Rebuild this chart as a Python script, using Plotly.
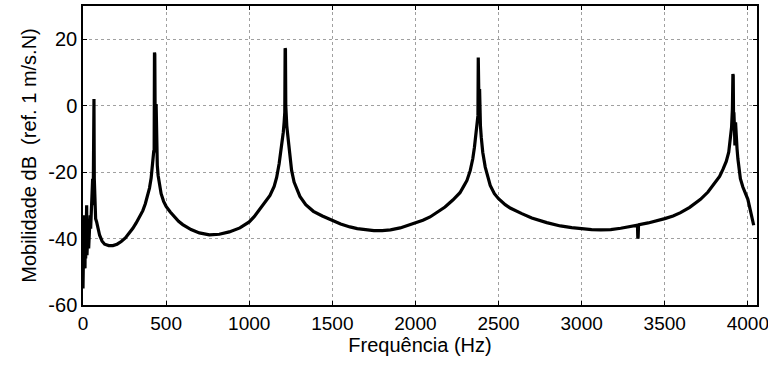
import plotly.graph_objects as go

# Frequency (Hz) and mobility (dB ref. 1 m/s.N)
freq_hz = [
    0, 2, 4, 6, 8, 10, 12, 14, 16, 18, 20, 22, 24, 26, 28, 31, 34, 37, 40, 43,
    46, 49, 52, 55, 58, 61, 63, 65, 66, 67, 68, 70, 72, 76, 82, 90, 100, 115,
    130, 155, 180, 205, 230, 255, 280, 300, 320, 340, 360, 375, 390, 400, 410,
    417, 422, 426, 428, 430, 432, 434, 437, 440, 443, 447, 452, 460, 470, 485,
    500, 525, 550, 575, 600, 650, 700, 760, 820, 880, 944, 1000, 1030, 1064,
    1095, 1125, 1150, 1165, 1180, 1195, 1205, 1210, 1214, 1216, 1218, 1220,
    1222, 1226, 1230, 1235, 1245, 1255, 1270, 1290, 1305, 1340, 1386, 1440,
    1500, 1550, 1606, 1650, 1700, 1750, 1800, 1850, 1908, 1960, 2000, 2045,
    2088, 2130, 2178, 2225, 2268, 2290, 2310, 2330, 2345, 2355, 2365, 2372,
    2376, 2378, 2380, 2383, 2386, 2388, 2391, 2396, 2405, 2420, 2435, 2450,
    2475, 2500, 2540, 2570, 2640, 2700, 2790, 2872, 2940, 3000, 3060, 3115,
    3175, 3235, 3290, 3330, 3336, 3338, 3340, 3342, 3346, 3400, 3450, 3500,
    3550, 3595, 3650, 3715, 3760, 3805, 3830, 3850, 3870, 3885, 3895, 3902,
    3907, 3910, 3912, 3914, 3916, 3919, 3922, 3926, 3930, 3935, 3940, 3948,
    3955, 3970, 3985, 4000, 4015, 4035, 4055,
]
mobility_db = [
    -55, -36, -50, -33, -47, -38, -49, -36, -46, -40, -44, -30, -45, -37, -42,
    -35, -43, -36, -40, -33, -37, -32, -35, -27, -22, -30, -10, -4, 2, -12,
    -22, -28, -33, -34, -35, -37, -39, -40.8, -41.7, -42.1, -42.1, -41.7,
    -40.9, -39.8, -38.3, -36.9, -35.3, -33.6, -31.6, -29.5, -27, -24.8, -21.8,
    -18.5, -15.5, -13.5, -14, 16, 15.5, -3, -10, 0.5, -14, -18, -21, -24,
    -26.5, -28.8, -30.3, -32, -33.5, -34.8, -35.8, -37.3, -38.3, -38.9, -38.7,
    -38, -36.8, -35, -33.4, -31.2, -29.2, -27, -24.3, -21.6, -17.5, -12.3,
    -8, -5, -2, 17.3, 17, 0, -4, -6, -8, -10.5, -15.5, -19.5, -23, -25.8,
    -27.3, -29.8, -31.8, -33.2, -34.6, -35.6, -36.5, -37, -37.3, -37.6, -37.6,
    -37.4, -36.8, -36, -35.4, -34.5, -33.5, -32.1, -30.5, -28.4, -26.2, -24.3,
    -22.5, -19.5, -16, -12.5, -8.5, -5, -3, 14.5, 1, -2, 5, -3, -6, -9.5, -14,
    -18.5, -21.5, -24, -26.5, -28, -29.8, -30.8, -32.5, -33.8, -35.2, -36.2,
    -36.7, -37.1, -37.3, -37.4, -37.3, -36.9, -36.5, -36.2, -36, -40, -39.5,
    -36.3, -35.8, -35.3, -34.7, -34, -33.2, -32.2, -30.6, -28.2, -26, -23.2,
    -21.3, -19.2, -16.8, -14, -10.5, -6.5, -1, 9.5, 9, -4, -2, -6, -12, -5,
    -10, -13, -16, -18.5, -22, -24.5, -26.3, -28.2, -31.5, -36,
]

x_ticks = [0, 500, 1000, 1500, 2000, 2500, 3000, 3500, 4000]
y_ticks = [-60, -40, -20, 0, 20]

FONT = "Liberation Sans, Arial, sans-serif"

fig = go.Figure(
    go.Scatter(
        x=freq_hz,
        y=mobility_db,
        mode="lines",
        line=dict(color="black", width=3.2),
        showlegend=False,
        hoverinfo="x+y",
    )
)

axis_common = dict(
    showline=True,
    linecolor="black",
    linewidth=1.5,
    mirror="ticks",
    ticks="inside",
    ticklen=4,
    tickwidth=1,
    tickcolor="black",
    showgrid=True,
    gridcolor="#a0a0a0",
    gridwidth=1,
    griddash="dot",
    zeroline=False,
    automargin=False,
    ticklabeloverflow="allow",
)

fig.update_xaxes(
    range=[0, 4055],
    tickvals=x_ticks,
    ticktext=[str(v) for v in x_ticks],
    tickfont=dict(family=FONT, size=19, color="black"),
    title=dict(text="Frequência (Hz)", standoff=5,
               font=dict(family=FONT, size=20, color="black")),
    **axis_common,
)
fig.update_yaxes(
    range=[-60, 30],
    tickvals=y_ticks,
    ticktext=[str(v) for v in y_ticks],
    tickfont=dict(family=FONT, size=20, color="black"),
    title=dict(text="Mobilidade dB  (ref. 1 m/s.N)", standoff=6,
               font=dict(family=FONT, size=20, color="black")),
    **axis_common,
)

fig.update_layout(
    width=768,
    height=367,
    margin=dict(l=83, r=11, t=6, b=62, autoexpand=False),
    plot_bgcolor="white",
    paper_bgcolor="white",
)

fig.write_html(
    "out.html",
    config={"displayModeBar": False},
    post_script="document.body.style.margin='0';document.body.style.overflow='hidden';",
)
